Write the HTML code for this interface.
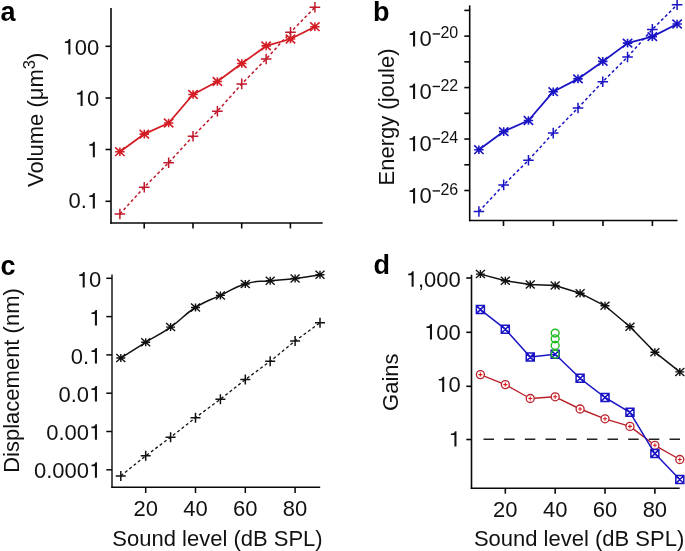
<!DOCTYPE html>
<html><head><meta charset="utf-8"><style>
html,body{margin:0;padding:0;background:#fff;}
svg{display:block;filter:blur(0.3px);font-family:"Liberation Sans", sans-serif;}
</style></head><body>
<svg width="685" height="551" viewBox="0 0 685 551" font-family='"Liberation Sans", sans-serif'>
<rect width="685" height="551" fill="#fff"/>
<text x="0.50" y="21.00" font-size="27" text-anchor="start" font-weight="bold" fill="#000" >a</text>
<line x1="111.00" y1="8.00" x2="111.00" y2="223.75" stroke="#080808" stroke-width="1.6" />
<line x1="110.25" y1="223.00" x2="322.70" y2="223.00" stroke="#080808" stroke-width="1.6" />
<line x1="105.50" y1="46.30" x2="111.00" y2="46.30" stroke="#080808" stroke-width="1.6" />
<path d="M70.40,54.50 L70.40,39.03 L68.93,39.03 C68.49,40.60 67.70,41.30 64.90,41.48 L64.90,43.02 L68.33,43.02 L68.33,54.50Z" fill="#111"/>
<text x="74.74" y="54.50" font-size="22" fill="#111">0</text>
<text x="86.97" y="54.50" font-size="22" fill="#111">0</text>
<line x1="105.50" y1="98.00" x2="111.00" y2="98.00" stroke="#080808" stroke-width="1.6" />
<path d="M82.63,105.90 L82.63,90.43 L81.16,90.43 C80.72,92.00 79.93,92.70 77.13,92.88 L77.13,94.42 L80.57,94.42 L80.57,105.90Z" fill="#111"/>
<text x="86.97" y="105.90" font-size="22" fill="#111">0</text>
<line x1="105.50" y1="149.50" x2="111.00" y2="149.50" stroke="#080808" stroke-width="1.6" />
<path d="M94.87,157.30 L94.87,141.83 L93.39,141.83 C92.95,143.40 92.16,144.10 89.37,144.28 L89.37,145.82 L92.80,145.82 L92.80,157.30Z" fill="#111"/>
<line x1="105.50" y1="201.30" x2="111.00" y2="201.30" stroke="#080808" stroke-width="1.6" />
<text x="68.62" y="208.40" font-size="22" fill="#111">0</text>
<text x="80.85" y="208.40" font-size="22" fill="#111">.</text>
<path d="M94.87,208.40 L94.87,192.93 L93.39,192.93 C92.95,194.50 92.16,195.20 89.37,195.38 L89.37,196.92 L92.80,196.92 L92.80,208.40Z" fill="#111"/>
<line x1="144.20" y1="223.00" x2="144.20" y2="228.50" stroke="#080808" stroke-width="1.6" />
<line x1="193.00" y1="223.00" x2="193.00" y2="228.50" stroke="#080808" stroke-width="1.6" />
<line x1="241.70" y1="223.00" x2="241.70" y2="228.50" stroke="#080808" stroke-width="1.6" />
<line x1="290.40" y1="223.00" x2="290.40" y2="228.50" stroke="#080808" stroke-width="1.6" />
<polyline points="119.90,214.00 144.28,187.20 168.65,162.70 193.03,136.30 217.40,111.20 241.78,83.90 266.15,59.00 290.52,32.30 314.90,7.30" fill="none" stroke="#c0182a" stroke-width="1.5" stroke-linejoin="round" stroke-dasharray="3,2.5"/>
<polyline points="119.90,151.70 144.28,134.10 168.65,123.00 193.03,94.50 217.40,81.50 241.78,63.50 266.15,45.90 290.52,39.00 314.90,26.70" fill="none" stroke="#d41c24" stroke-width="1.8" stroke-linejoin="round" />
<path d="M114.60,214.00H125.20M119.90,208.70V219.30" stroke="#c0182a" stroke-width="1.5" fill="none"/>
<path d="M138.97,187.20H149.58M144.28,181.90V192.50" stroke="#c0182a" stroke-width="1.5" fill="none"/>
<path d="M163.35,162.70H173.95M168.65,157.40V168.00" stroke="#c0182a" stroke-width="1.5" fill="none"/>
<path d="M187.72,136.30H198.33M193.03,131.00V141.60" stroke="#c0182a" stroke-width="1.5" fill="none"/>
<path d="M212.10,111.20H222.70M217.40,105.90V116.50" stroke="#c0182a" stroke-width="1.5" fill="none"/>
<path d="M236.47,83.90H247.08M241.78,78.60V89.20" stroke="#c0182a" stroke-width="1.5" fill="none"/>
<path d="M260.85,59.00H271.45M266.15,53.70V64.30" stroke="#c0182a" stroke-width="1.5" fill="none"/>
<path d="M285.22,32.30H295.82M290.52,27.00V37.60" stroke="#c0182a" stroke-width="1.5" fill="none"/>
<path d="M309.60,7.30H320.20M314.90,2.00V12.60" stroke="#c0182a" stroke-width="1.5" fill="none"/>
<path d="M115.20,151.70H124.60M119.90,147.40V156.00M115.20,147.40L124.60,156.00M115.20,156.00L124.60,147.40" stroke="#d41c24" stroke-width="1.6" fill="none"/>
<path d="M139.58,134.10H148.97M144.28,129.80V138.40M139.58,129.80L148.97,138.40M139.58,138.40L148.97,129.80" stroke="#d41c24" stroke-width="1.6" fill="none"/>
<path d="M163.95,123.00H173.35M168.65,118.70V127.30M163.95,118.70L173.35,127.30M163.95,127.30L173.35,118.70" stroke="#d41c24" stroke-width="1.6" fill="none"/>
<path d="M188.33,94.50H197.72M193.03,90.20V98.80M188.33,90.20L197.72,98.80M188.33,98.80L197.72,90.20" stroke="#d41c24" stroke-width="1.6" fill="none"/>
<path d="M212.70,81.50H222.10M217.40,77.20V85.80M212.70,77.20L222.10,85.80M212.70,85.80L222.10,77.20" stroke="#d41c24" stroke-width="1.6" fill="none"/>
<path d="M237.08,63.50H246.47M241.78,59.20V67.80M237.08,59.20L246.47,67.80M237.08,67.80L246.47,59.20" stroke="#d41c24" stroke-width="1.6" fill="none"/>
<path d="M261.45,45.90H270.85M266.15,41.60V50.20M261.45,41.60L270.85,50.20M261.45,50.20L270.85,41.60" stroke="#d41c24" stroke-width="1.6" fill="none"/>
<path d="M285.82,39.00H295.22M290.52,34.70V43.30M285.82,34.70L295.22,43.30M285.82,43.30L295.22,34.70" stroke="#d41c24" stroke-width="1.6" fill="none"/>
<path d="M310.20,26.70H319.60M314.90,22.40V31.00M310.20,22.40L319.60,31.00M310.20,31.00L319.60,22.40" stroke="#d41c24" stroke-width="1.6" fill="none"/>
<text x="0" y="0" font-size="22" text-anchor="middle" fill="#111" transform="translate(42.50,119.90) rotate(-90)">Volume (μm<tspan font-size="16.5" dy="-8">3</tspan><tspan dy="8">)</tspan></text>
<text x="372.90" y="21.00" font-size="27" text-anchor="start" font-weight="bold" fill="#000" >b</text>
<line x1="469.70" y1="5.40" x2="469.70" y2="221.25" stroke="#080808" stroke-width="1.6" />
<line x1="468.95" y1="220.50" x2="677.50" y2="220.50" stroke="#080808" stroke-width="1.6" />
<line x1="464.30" y1="10.40" x2="469.70" y2="10.40" stroke="#080808" stroke-width="1.6" />
<line x1="464.30" y1="36.13" x2="469.70" y2="36.13" stroke="#080808" stroke-width="1.6" />
<path d="M415.10,46.43 L415.10,30.96 L413.62,30.96 C413.18,32.53 412.39,33.23 409.60,33.41 L409.60,34.95 L413.03,34.95 L413.03,46.43Z" fill="#111"/>
<text x="419.43" y="46.43" font-size="22" fill="#111">0</text>
<rect x="432.6" y="33.23" width="7.4" height="1.4" fill="#111"/>
<text x="440.40" y="38.13" font-size="16" text-anchor="start" font-weight="normal" fill="#111" >20</text>
<line x1="464.30" y1="61.86" x2="469.70" y2="61.86" stroke="#080808" stroke-width="1.6" />
<line x1="464.30" y1="87.59" x2="469.70" y2="87.59" stroke="#080808" stroke-width="1.6" />
<path d="M415.10,98.99 L415.10,83.52 L413.62,83.52 C413.18,85.09 412.39,85.79 409.60,85.97 L409.60,87.51 L413.03,87.51 L413.03,98.99Z" fill="#111"/>
<text x="419.43" y="98.99" font-size="22" fill="#111">0</text>
<rect x="432.6" y="85.79" width="7.4" height="1.4" fill="#111"/>
<text x="440.40" y="90.69" font-size="16" text-anchor="start" font-weight="normal" fill="#111" >22</text>
<line x1="464.30" y1="113.32" x2="469.70" y2="113.32" stroke="#080808" stroke-width="1.6" />
<line x1="464.30" y1="139.05" x2="469.70" y2="139.05" stroke="#080808" stroke-width="1.6" />
<path d="M415.10,151.35 L415.10,135.88 L413.62,135.88 C413.18,137.45 412.39,138.15 409.60,138.33 L409.60,139.87 L413.03,139.87 L413.03,151.35Z" fill="#111"/>
<text x="419.43" y="151.35" font-size="22" fill="#111">0</text>
<rect x="432.6" y="138.15" width="7.4" height="1.4" fill="#111"/>
<text x="440.40" y="143.05" font-size="16" text-anchor="start" font-weight="normal" fill="#111" >24</text>
<line x1="464.30" y1="164.78" x2="469.70" y2="164.78" stroke="#080808" stroke-width="1.6" />
<line x1="464.30" y1="190.51" x2="469.70" y2="190.51" stroke="#080808" stroke-width="1.6" />
<path d="M415.10,203.41 L415.10,187.94 L413.62,187.94 C413.18,189.51 412.39,190.21 409.60,190.39 L409.60,191.93 L413.03,191.93 L413.03,203.41Z" fill="#111"/>
<text x="419.43" y="203.41" font-size="22" fill="#111">0</text>
<rect x="432.6" y="190.21" width="7.4" height="1.4" fill="#111"/>
<text x="440.40" y="195.11" font-size="16" text-anchor="start" font-weight="normal" fill="#111" >26</text>
<line x1="503.50" y1="220.50" x2="503.50" y2="226.00" stroke="#080808" stroke-width="1.6" />
<line x1="553.40" y1="220.50" x2="553.40" y2="226.00" stroke="#080808" stroke-width="1.6" />
<line x1="603.00" y1="220.50" x2="603.00" y2="226.00" stroke="#080808" stroke-width="1.6" />
<line x1="652.40" y1="220.50" x2="652.40" y2="226.00" stroke="#080808" stroke-width="1.6" />
<polyline points="478.90,211.50 503.67,184.90 528.45,160.30 553.23,133.10 578.00,108.00 602.77,81.70 627.55,57.00 652.33,29.40 677.10,4.80" fill="none" stroke="#1a14c4" stroke-width="1.5" stroke-linejoin="round" stroke-dasharray="3,2.5"/>
<polyline points="478.90,149.70 503.67,131.60 528.45,120.50 553.23,91.70 578.00,78.90 602.77,61.40 627.55,43.10 652.33,36.60 677.10,24.00" fill="none" stroke="#1a14c4" stroke-width="1.8" stroke-linejoin="round" />
<path d="M473.60,211.50H484.20M478.90,206.20V216.80" stroke="#1a14c4" stroke-width="1.5" fill="none"/>
<path d="M498.37,184.90H508.97M503.67,179.60V190.20" stroke="#1a14c4" stroke-width="1.5" fill="none"/>
<path d="M523.15,160.30H533.75M528.45,155.00V165.60" stroke="#1a14c4" stroke-width="1.5" fill="none"/>
<path d="M547.93,133.10H558.52M553.23,127.80V138.40" stroke="#1a14c4" stroke-width="1.5" fill="none"/>
<path d="M572.70,108.00H583.30M578.00,102.70V113.30" stroke="#1a14c4" stroke-width="1.5" fill="none"/>
<path d="M597.48,81.70H608.07M602.77,76.40V87.00" stroke="#1a14c4" stroke-width="1.5" fill="none"/>
<path d="M622.25,57.00H632.85M627.55,51.70V62.30" stroke="#1a14c4" stroke-width="1.5" fill="none"/>
<path d="M647.03,29.40H657.62M652.33,24.10V34.70" stroke="#1a14c4" stroke-width="1.5" fill="none"/>
<path d="M671.80,4.80H682.40M677.10,-0.50V10.10" stroke="#1a14c4" stroke-width="1.5" fill="none"/>
<path d="M474.20,149.70H483.60M478.90,145.40V154.00M474.20,145.40L483.60,154.00M474.20,154.00L483.60,145.40" stroke="#1a14c4" stroke-width="1.6" fill="none"/>
<path d="M498.97,131.60H508.37M503.67,127.30V135.90M498.97,127.30L508.37,135.90M498.97,135.90L508.37,127.30" stroke="#1a14c4" stroke-width="1.6" fill="none"/>
<path d="M523.75,120.50H533.15M528.45,116.20V124.80M523.75,116.20L533.15,124.80M523.75,124.80L533.15,116.20" stroke="#1a14c4" stroke-width="1.6" fill="none"/>
<path d="M548.52,91.70H557.93M553.23,87.40V96.00M548.52,87.40L557.93,96.00M548.52,96.00L557.93,87.40" stroke="#1a14c4" stroke-width="1.6" fill="none"/>
<path d="M573.30,78.90H582.70M578.00,74.60V83.20M573.30,74.60L582.70,83.20M573.30,83.20L582.70,74.60" stroke="#1a14c4" stroke-width="1.6" fill="none"/>
<path d="M598.07,61.40H607.48M602.77,57.10V65.70M598.07,57.10L607.48,65.70M598.07,65.70L607.48,57.10" stroke="#1a14c4" stroke-width="1.6" fill="none"/>
<path d="M622.85,43.10H632.25M627.55,38.80V47.40M622.85,38.80L632.25,47.40M622.85,47.40L632.25,38.80" stroke="#1a14c4" stroke-width="1.6" fill="none"/>
<path d="M647.62,36.60H657.03M652.33,32.30V40.90M647.62,32.30L657.03,40.90M647.62,40.90L657.03,32.30" stroke="#1a14c4" stroke-width="1.6" fill="none"/>
<path d="M672.40,24.00H681.80M677.10,19.70V28.30M672.40,19.70L681.80,28.30M672.40,28.30L681.80,19.70" stroke="#1a14c4" stroke-width="1.6" fill="none"/>
<text x="0" y="0" font-size="22" text-anchor="middle" fill="#111" transform="translate(394.30,117.00) rotate(-90)">Energy (joule)</text>
<text x="0.50" y="275.00" font-size="27" text-anchor="start" font-weight="bold" fill="#000" >c</text>
<line x1="112.00" y1="274.50" x2="112.00" y2="488.00" stroke="#080808" stroke-width="1.4" />
<line x1="111.30" y1="487.30" x2="320.20" y2="487.30" stroke="#080808" stroke-width="1.4" />
<line x1="106.30" y1="278.30" x2="112.00" y2="278.30" stroke="#080808" stroke-width="1.5" />
<path d="M84.73,287.40 L84.73,271.93 L83.26,271.93 C82.82,273.50 82.03,274.20 79.23,274.38 L79.23,275.92 L82.67,275.92 L82.67,287.40Z" fill="#111"/>
<text x="89.07" y="287.40" font-size="22" fill="#111">0</text>
<line x1="106.30" y1="316.60" x2="112.00" y2="316.60" stroke="#080808" stroke-width="1.5" />
<path d="M96.97,325.46 L96.97,309.99 L95.49,309.99 C95.05,311.56 94.26,312.26 91.47,312.44 L91.47,313.98 L94.90,313.98 L94.90,325.46Z" fill="#111"/>
<line x1="106.30" y1="354.90" x2="112.00" y2="354.90" stroke="#080808" stroke-width="1.5" />
<text x="70.72" y="363.52" font-size="22" fill="#111">0</text>
<text x="82.95" y="363.52" font-size="22" fill="#111">.</text>
<path d="M96.97,363.52 L96.97,348.05 L95.49,348.05 C95.05,349.62 94.26,350.32 91.47,350.50 L91.47,352.04 L94.90,352.04 L94.90,363.52Z" fill="#111"/>
<line x1="106.30" y1="393.20" x2="112.00" y2="393.20" stroke="#080808" stroke-width="1.5" />
<text x="58.49" y="401.58" font-size="22" fill="#111">0</text>
<text x="70.72" y="401.58" font-size="22" fill="#111">.</text>
<text x="76.84" y="401.58" font-size="22" fill="#111">0</text>
<path d="M96.97,401.58 L96.97,386.11 L95.49,386.11 C95.05,387.68 94.26,388.38 91.47,388.56 L91.47,390.10 L94.90,390.10 L94.90,401.58Z" fill="#111"/>
<line x1="106.30" y1="431.50" x2="112.00" y2="431.50" stroke="#080808" stroke-width="1.5" />
<text x="46.26" y="439.64" font-size="22" fill="#111">0</text>
<text x="58.49" y="439.64" font-size="22" fill="#111">.</text>
<text x="64.60" y="439.64" font-size="22" fill="#111">0</text>
<text x="76.84" y="439.64" font-size="22" fill="#111">0</text>
<path d="M96.97,439.64 L96.97,424.17 L95.49,424.17 C95.05,425.74 94.26,426.44 91.47,426.62 L91.47,428.16 L94.90,428.16 L94.90,439.64Z" fill="#111"/>
<line x1="106.30" y1="469.80" x2="112.00" y2="469.80" stroke="#080808" stroke-width="1.5" />
<text x="34.02" y="477.70" font-size="22" fill="#111">0</text>
<text x="46.26" y="477.70" font-size="22" fill="#111">.</text>
<text x="52.37" y="477.70" font-size="22" fill="#111">0</text>
<text x="64.60" y="477.70" font-size="22" fill="#111">0</text>
<text x="76.84" y="477.70" font-size="22" fill="#111">0</text>
<path d="M96.97,477.70 L96.97,462.23 L95.49,462.23 C95.05,463.80 94.26,464.50 91.47,464.68 L91.47,466.22 L94.90,466.22 L94.90,477.70Z" fill="#111"/>
<line x1="145.70" y1="487.30" x2="145.70" y2="493.00" stroke="#080808" stroke-width="1.5" />
<text x="145.70" y="515.50" font-size="22" text-anchor="middle" font-weight="normal" fill="#111" >20</text>
<line x1="195.50" y1="487.30" x2="195.50" y2="493.00" stroke="#080808" stroke-width="1.5" />
<text x="195.50" y="515.50" font-size="22" text-anchor="middle" font-weight="normal" fill="#111" >40</text>
<line x1="245.30" y1="487.30" x2="245.30" y2="493.00" stroke="#080808" stroke-width="1.5" />
<text x="245.30" y="515.50" font-size="22" text-anchor="middle" font-weight="normal" fill="#111" >60</text>
<line x1="295.10" y1="487.30" x2="295.10" y2="493.00" stroke="#080808" stroke-width="1.5" />
<text x="295.10" y="515.50" font-size="22" text-anchor="middle" font-weight="normal" fill="#111" >80</text>
<text x="112.30" y="545.70" font-size="22" text-anchor="start" font-weight="normal" fill="#111" >Sound level (dB SPL)</text>
<polyline points="120.80,475.90 145.70,455.80 170.60,437.30 195.50,417.70 220.40,399.20 245.30,379.60 270.20,361.30 295.10,341.00 320.00,322.70" fill="none" stroke="#111" stroke-width="1.3" stroke-linejoin="round" stroke-dasharray="3,2.5"/>
<path d="M120.80,358.00 C127.44,353.81 132.42,350.54 145.70,342.30 C158.98,334.06 157.32,336.38 170.60,327.10 C183.88,317.82 182.22,315.95 195.50,307.50 C208.78,299.05 207.12,301.67 220.40,295.40 C233.68,289.13 232.02,287.92 245.30,284.00 C258.58,280.08 256.92,282.17 270.20,280.70 C283.48,279.23 281.82,280.07 295.10,278.50 C308.38,276.93 313.36,275.79 320.00,274.80" fill="none" stroke="#111" stroke-width="1.5" stroke-linejoin="round"/>
<path d="M115.80,475.90H125.80M120.80,470.90V480.90" stroke="#111" stroke-width="1.5" fill="none"/>
<path d="M140.70,455.80H150.70M145.70,450.80V460.80" stroke="#111" stroke-width="1.5" fill="none"/>
<path d="M165.60,437.30H175.60M170.60,432.30V442.30" stroke="#111" stroke-width="1.5" fill="none"/>
<path d="M190.50,417.70H200.50M195.50,412.70V422.70" stroke="#111" stroke-width="1.5" fill="none"/>
<path d="M215.40,399.20H225.40M220.40,394.20V404.20" stroke="#111" stroke-width="1.5" fill="none"/>
<path d="M240.30,379.60H250.30M245.30,374.60V384.60" stroke="#111" stroke-width="1.5" fill="none"/>
<path d="M265.20,361.30H275.20M270.20,356.30V366.30" stroke="#111" stroke-width="1.5" fill="none"/>
<path d="M290.10,341.00H300.10M295.10,336.00V346.00" stroke="#111" stroke-width="1.5" fill="none"/>
<path d="M315.00,322.70H325.00M320.00,317.70V327.70" stroke="#111" stroke-width="1.5" fill="none"/>
<path d="M116.30,358.00H125.30M120.80,354.00V362.00M116.30,354.00L125.30,362.00M116.30,362.00L125.30,354.00" stroke="#111" stroke-width="1.4" fill="none"/>
<path d="M141.20,342.30H150.20M145.70,338.30V346.30M141.20,338.30L150.20,346.30M141.20,346.30L150.20,338.30" stroke="#111" stroke-width="1.4" fill="none"/>
<path d="M166.10,327.10H175.10M170.60,323.10V331.10M166.10,323.10L175.10,331.10M166.10,331.10L175.10,323.10" stroke="#111" stroke-width="1.4" fill="none"/>
<path d="M191.00,307.50H200.00M195.50,303.50V311.50M191.00,303.50L200.00,311.50M191.00,311.50L200.00,303.50" stroke="#111" stroke-width="1.4" fill="none"/>
<path d="M215.90,295.40H224.90M220.40,291.40V299.40M215.90,291.40L224.90,299.40M215.90,299.40L224.90,291.40" stroke="#111" stroke-width="1.4" fill="none"/>
<path d="M240.80,284.00H249.80M245.30,280.00V288.00M240.80,280.00L249.80,288.00M240.80,288.00L249.80,280.00" stroke="#111" stroke-width="1.4" fill="none"/>
<path d="M265.70,280.70H274.70M270.20,276.70V284.70M265.70,276.70L274.70,284.70M265.70,284.70L274.70,276.70" stroke="#111" stroke-width="1.4" fill="none"/>
<path d="M290.60,278.50H299.60M295.10,274.50V282.50M290.60,274.50L299.60,282.50M290.60,282.50L299.60,274.50" stroke="#111" stroke-width="1.4" fill="none"/>
<path d="M315.50,274.80H324.50M320.00,270.80V278.80M315.50,270.80L324.50,278.80M315.50,278.80L324.50,270.80" stroke="#111" stroke-width="1.4" fill="none"/>
<text x="0" y="0" font-size="22" text-anchor="middle" fill="#111" transform="translate(19.00,380.50) rotate(-90)">Displacement (nm)</text>
<text x="373.50" y="274.00" font-size="27" text-anchor="start" font-weight="bold" fill="#000" >d</text>
<line x1="471.50" y1="274.80" x2="471.50" y2="489.05" stroke="#080808" stroke-width="1.6" />
<line x1="470.75" y1="488.30" x2="679.70" y2="488.30" stroke="#080808" stroke-width="1.6" />
<line x1="466.30" y1="278.00" x2="471.50" y2="278.00" stroke="#080808" stroke-width="1.6" />
<path d="M413.65,286.80 L413.65,271.33 L412.18,271.33 C411.74,272.90 410.95,273.60 408.15,273.78 L408.15,275.32 L411.59,275.32 L411.59,286.80Z" fill="#111"/>
<text x="417.99" y="286.80" font-size="22" fill="#111">,</text>
<text x="424.10" y="286.80" font-size="22" fill="#111">0</text>
<text x="436.34" y="286.80" font-size="22" fill="#111">0</text>
<text x="448.57" y="286.80" font-size="22" fill="#111">0</text>
<line x1="466.30" y1="332.30" x2="471.50" y2="332.30" stroke="#080808" stroke-width="1.6" />
<path d="M432.00,339.50 L432.00,324.03 L430.53,324.03 C430.09,325.60 429.30,326.30 426.50,326.48 L426.50,328.02 L429.93,328.02 L429.93,339.50Z" fill="#111"/>
<text x="436.34" y="339.50" font-size="22" fill="#111">0</text>
<text x="448.57" y="339.50" font-size="22" fill="#111">0</text>
<line x1="466.30" y1="386.30" x2="471.50" y2="386.30" stroke="#080808" stroke-width="1.6" />
<path d="M444.23,392.10 L444.23,376.63 L442.76,376.63 C442.32,378.20 441.53,378.90 438.73,379.08 L438.73,380.62 L442.17,380.62 L442.17,392.10Z" fill="#111"/>
<text x="448.57" y="392.10" font-size="22" fill="#111">0</text>
<line x1="466.30" y1="439.50" x2="471.50" y2="439.50" stroke="#080808" stroke-width="1.6" />
<path d="M456.47,446.60 L456.47,431.13 L454.99,431.13 C454.55,432.70 453.76,433.40 450.97,433.58 L450.97,435.12 L454.40,435.12 L454.40,446.60Z" fill="#111"/>
<line x1="505.32" y1="488.30" x2="505.32" y2="493.70" stroke="#080808" stroke-width="1.6" />
<text x="505.32" y="516.50" font-size="22" text-anchor="middle" font-weight="normal" fill="#111" >20</text>
<line x1="555.17" y1="488.30" x2="555.17" y2="493.70" stroke="#080808" stroke-width="1.6" />
<text x="555.17" y="516.50" font-size="22" text-anchor="middle" font-weight="normal" fill="#111" >40</text>
<line x1="605.02" y1="488.30" x2="605.02" y2="493.70" stroke="#080808" stroke-width="1.6" />
<text x="605.02" y="516.50" font-size="22" text-anchor="middle" font-weight="normal" fill="#111" >60</text>
<line x1="654.88" y1="488.30" x2="654.88" y2="493.70" stroke="#080808" stroke-width="1.6" />
<text x="654.88" y="516.50" font-size="22" text-anchor="middle" font-weight="normal" fill="#111" >80</text>
<text x="473.90" y="545.90" font-size="22" text-anchor="start" font-weight="normal" fill="#111" >Sound level (dB SPL)</text>
<line x1="483.5" y1="439.3" x2="681" y2="439.3" stroke="#222" stroke-width="1.5" stroke-dasharray="10.5,10.17"/>
<polyline points="480.40,374.60 505.32,384.60 530.25,398.50 555.17,396.80 580.10,409.00 605.02,418.80 629.95,426.40 654.88,445.30 679.80,459.50" fill="none" stroke="#b8202a" stroke-width="1.4" stroke-linejoin="round" />
<circle cx="480.40" cy="374.60" r="4.0" stroke="#b8202a" stroke-width="1.3" fill="#fff"/>
<path d="M478.40,374.60H482.40M480.40,372.60V376.60" stroke="#e01a1a" stroke-width="1.1"/>
<circle cx="505.32" cy="384.60" r="4.0" stroke="#b8202a" stroke-width="1.3" fill="#fff"/>
<path d="M503.32,384.60H507.32M505.32,382.60V386.60" stroke="#e01a1a" stroke-width="1.1"/>
<circle cx="530.25" cy="398.50" r="4.0" stroke="#b8202a" stroke-width="1.3" fill="#fff"/>
<path d="M528.25,398.50H532.25M530.25,396.50V400.50" stroke="#e01a1a" stroke-width="1.1"/>
<circle cx="555.17" cy="396.80" r="4.0" stroke="#b8202a" stroke-width="1.3" fill="#fff"/>
<path d="M553.17,396.80H557.17M555.17,394.80V398.80" stroke="#e01a1a" stroke-width="1.1"/>
<circle cx="580.10" cy="409.00" r="4.0" stroke="#b8202a" stroke-width="1.3" fill="#fff"/>
<path d="M578.10,409.00H582.10M580.10,407.00V411.00" stroke="#e01a1a" stroke-width="1.1"/>
<circle cx="605.02" cy="418.80" r="4.0" stroke="#b8202a" stroke-width="1.3" fill="#fff"/>
<path d="M603.02,418.80H607.02M605.02,416.80V420.80" stroke="#e01a1a" stroke-width="1.1"/>
<circle cx="629.95" cy="426.40" r="4.0" stroke="#b8202a" stroke-width="1.3" fill="#fff"/>
<path d="M627.95,426.40H631.95M629.95,424.40V428.40" stroke="#e01a1a" stroke-width="1.1"/>
<circle cx="654.88" cy="445.30" r="4.0" stroke="#b8202a" stroke-width="1.3" fill="#fff"/>
<path d="M652.88,445.30H656.88M654.88,443.30V447.30" stroke="#e01a1a" stroke-width="1.1"/>
<circle cx="679.80" cy="459.50" r="4.0" stroke="#b8202a" stroke-width="1.3" fill="#fff"/>
<path d="M677.80,459.50H681.80M679.80,457.50V461.50" stroke="#e01a1a" stroke-width="1.1"/>
<polyline points="480.40,309.60 505.32,329.20 530.25,357.10 555.17,354.30 580.10,378.30 605.02,397.50 629.95,412.30 654.88,453.60 679.80,479.50" fill="none" stroke="#1a14c4" stroke-width="1.5" stroke-linejoin="round" />
<path d="M476.40,305.60H484.40V313.60H476.40ZM476.40,305.60L484.40,313.60M476.40,313.60L484.40,305.60" stroke="#1a14c4" stroke-width="1.5" fill="none"/>
<path d="M501.32,325.20H509.32V333.20H501.32ZM501.32,325.20L509.32,333.20M501.32,333.20L509.32,325.20" stroke="#1a14c4" stroke-width="1.5" fill="none"/>
<path d="M526.25,353.10H534.25V361.10H526.25ZM526.25,353.10L534.25,361.10M526.25,361.10L534.25,353.10" stroke="#1a14c4" stroke-width="1.5" fill="none"/>
<path d="M551.17,350.30H559.17V358.30H551.17ZM551.17,350.30L559.17,358.30M551.17,358.30L559.17,350.30" stroke="#1a14c4" stroke-width="1.5" fill="none"/>
<path d="M576.10,374.30H584.10V382.30H576.10ZM576.10,374.30L584.10,382.30M576.10,382.30L584.10,374.30" stroke="#1a14c4" stroke-width="1.5" fill="none"/>
<path d="M601.02,393.50H609.02V401.50H601.02ZM601.02,393.50L609.02,401.50M601.02,401.50L609.02,393.50" stroke="#1a14c4" stroke-width="1.5" fill="none"/>
<path d="M625.95,408.30H633.95V416.30H625.95ZM625.95,408.30L633.95,416.30M625.95,416.30L633.95,408.30" stroke="#1a14c4" stroke-width="1.5" fill="none"/>
<path d="M650.88,449.60H658.88V457.60H650.88ZM650.88,449.60L658.88,457.60M650.88,457.60L658.88,449.60" stroke="#1a14c4" stroke-width="1.5" fill="none"/>
<path d="M675.80,475.50H683.80V483.50H675.80ZM675.80,475.50L683.80,483.50M675.80,483.50L683.80,475.50" stroke="#1a14c4" stroke-width="1.5" fill="none"/>
<circle cx="555.17" cy="333.10" r="3.9" stroke="#22bb22" stroke-width="1.4" fill="none"/>
<circle cx="555.17" cy="338.80" r="3.9" stroke="#22bb22" stroke-width="1.4" fill="none"/>
<circle cx="555.17" cy="345.40" r="3.9" stroke="#22bb22" stroke-width="1.4" fill="none"/>
<circle cx="555.17" cy="354.20" r="3.9" stroke="#22bb22" stroke-width="1.4" fill="none"/>
<polyline points="480.40,274.10 505.32,280.70 530.25,284.60 555.17,285.50 580.10,293.20 605.02,305.80 629.95,326.80 654.88,352.20 679.80,371.90" fill="none" stroke="#111" stroke-width="1.5" stroke-linejoin="round" />
<path d="M475.90,274.10H484.90M480.40,270.10V278.10M475.90,270.10L484.90,278.10M475.90,278.10L484.90,270.10" stroke="#111" stroke-width="1.4" fill="none"/>
<path d="M500.82,280.70H509.82M505.32,276.70V284.70M500.82,276.70L509.82,284.70M500.82,284.70L509.82,276.70" stroke="#111" stroke-width="1.4" fill="none"/>
<path d="M525.75,284.60H534.75M530.25,280.60V288.60M525.75,280.60L534.75,288.60M525.75,288.60L534.75,280.60" stroke="#111" stroke-width="1.4" fill="none"/>
<path d="M550.67,285.50H559.67M555.17,281.50V289.50M550.67,281.50L559.67,289.50M550.67,289.50L559.67,281.50" stroke="#111" stroke-width="1.4" fill="none"/>
<path d="M575.60,293.20H584.60M580.10,289.20V297.20M575.60,289.20L584.60,297.20M575.60,297.20L584.60,289.20" stroke="#111" stroke-width="1.4" fill="none"/>
<path d="M600.52,305.80H609.52M605.02,301.80V309.80M600.52,301.80L609.52,309.80M600.52,309.80L609.52,301.80" stroke="#111" stroke-width="1.4" fill="none"/>
<path d="M625.45,326.80H634.45M629.95,322.80V330.80M625.45,322.80L634.45,330.80M625.45,330.80L634.45,322.80" stroke="#111" stroke-width="1.4" fill="none"/>
<path d="M650.38,352.20H659.38M654.88,348.20V356.20M650.38,348.20L659.38,356.20M650.38,356.20L659.38,348.20" stroke="#111" stroke-width="1.4" fill="none"/>
<path d="M675.30,371.90H684.30M679.80,367.90V375.90M675.30,367.90L684.30,375.90M675.30,375.90L684.30,367.90" stroke="#111" stroke-width="1.4" fill="none"/>
<text x="0" y="0" font-size="22" text-anchor="middle" fill="#111" transform="translate(397.80,382.20) rotate(-90)">Gains</text>
</svg></body></html>
